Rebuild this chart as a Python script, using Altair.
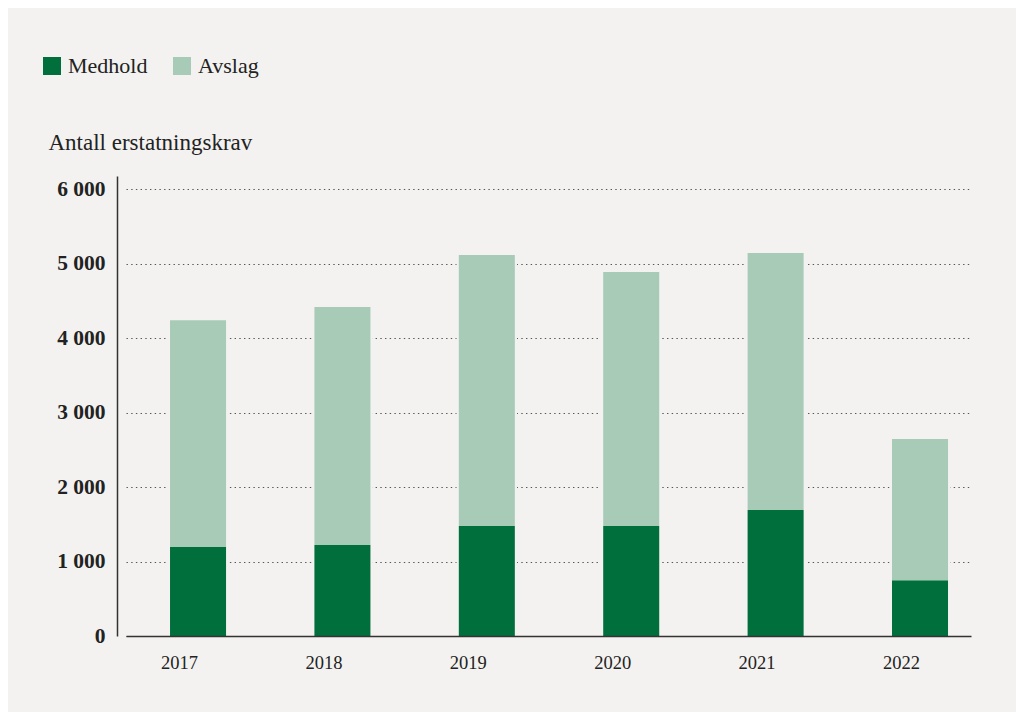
import altair as alt
import pandas as pd

years = ["2017", "2018", "2019", "2020", "2021", "2022"]
medhold = [1195, 1220, 1475, 1475, 1690, 750]
avslag = [3045, 3195, 3640, 3410, 3450, 1895]
categories = ["Medhold", "Avslag"]
colors = ["#006f3c", "#a8cbb7"]
y_ticks = [0, 1000, 2000, 3000, 4000, 5000, 6000]

rows = []
for y, m, a in zip(years, medhold, avslag):
    rows.append({"year": y, "kat": "Medhold", "verdi": m, "ord": 0})
    rows.append({"year": y, "kat": "Avslag", "verdi": a, "ord": 1})
df = pd.DataFrame(rows)
tot = pd.DataFrame({"year": years, "total": [m + a for m, a in zip(medhold, avslag)]})

BG = "#f3f2f0"
FONT = "Liberation Serif"

xscale = alt.Scale(domain=years, paddingInner=0.612, paddingOuter=0.232, align=0.657)

back = alt.Chart(tot).mark_bar(color=BG, width={"band": 1.08}).encode(
    x=alt.X("year:N", scale=xscale, title=None),
    y=alt.Y("total:Q"),
)

bars = alt.Chart(df).mark_bar().encode(
    x=alt.X("year:N", scale=xscale, title=None,
            axis=alt.Axis(labelAngle=0, ticks=False, domainColor="#333", domainWidth=1.5,
                          labelFont=FONT, labelFontSize=18.5, labelColor="#222",
                          labelPadding=26, zindex=1)),
    y=alt.Y("verdi:Q", stack="zero",
            scale=alt.Scale(domain=[0, 6175], nice=False),
            axis=alt.Axis(values=y_ticks, ticks=False, offset=9,
                          domainColor="#333", domainWidth=1.5,
                          grid=True, gridColor="#555", gridDash=[1.4, 3.3], gridWidth=1.2,
                          labelFont=FONT, labelFontSize=21.5, labelFontWeight="bold",
                          labelColor="#222", labelPadding=12,
                          labelExpr="replace(format(datum.value, ','), ',', ' ')",
                          title="Antall erstatningskrav", titleAngle=0, titleAlign="left",
                          titleBaseline="alphabetic", titleX=-69, titleY=-27,
                          titleFont=FONT, titleFontSize=23, titleFontWeight="normal",
                          titleColor="#222")),
    color=alt.Color("kat:N", scale=alt.Scale(domain=categories, range=colors),
                    legend=alt.Legend(title=None, orient="none", legendX=-85, legendY=-121,
                                      direction="horizontal", symbolType="square",
                                      symbolSize=324, symbolStrokeWidth=0,
                                      labelFont=FONT, labelFontSize=22, labelColor="#222",
                                      labelOffset=5, columnPadding=23, padding=0)),
    order=alt.Order("ord:Q"),
)

chart = alt.layer(back, bars).properties(
    width=845, height=460,
    background=BG,
    padding={"left": 118, "top": 168, "right": 45, "bottom": 76},
    autosize=alt.AutoSizeParams(type="none"),
).configure_view(stroke=None)

chart.save("out.html", embed_options={"renderer": "svg", "actions": False})
